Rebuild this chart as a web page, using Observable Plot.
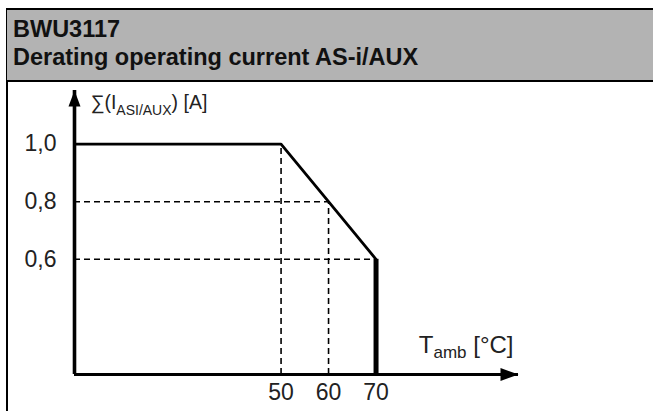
<!DOCTYPE html>
<html>
<head>
<meta charset="utf-8">
<script src="https://cdn.jsdelivr.net/npm/d3@7"></script>
<script src="https://cdn.jsdelivr.net/npm/@observablehq/plot@0.6"></script>
<style>
  html, body { margin: 0; padding: 0; background: #fff; }
  body { width: 653px; height: 411px; position: relative; overflow: hidden; font-family: "Liberation Sans", Arial, sans-serif; }
  #leftline { position: absolute; left: 6px; top: 8px; width: 1.5px; height: 403px; background: #000; }
  #header { position: absolute; left: 7px; top: 8px; width: 646px; height: 70px; background: #b3b3b3;
            border-top: 2px solid #000; border-bottom: 2px solid #000; }
  #header div { position: absolute; left: 6px; font-weight: bold; font-size: 23.5px; line-height: 28px; color: #111; white-space: nowrap; }
  #chart { position: absolute; left: 0; top: 82px; }
</style>
</head>
<body>
<div id="leftline"></div>
<div id="header"></div>
<div id="chart"></div>
<script>
// ---- data ----
const titleLines = ["BWU3117", "Derating operating current AS-i/AUX"];
const tempAxis = [6.5, 100];       // schematic temperature axis extent (°C)
const currentAxis = [0.2, 1.2];    // schematic current axis extent (A)
const tempTicks = [50, 60, 70];
const currentTicks = [0.6, 0.8, 1.0];
const curveTemp = [6.5, 50, 60, 70];
const curveCurrent = [1.0, 1.0, 0.8, 0.6];
const guideTemp = [50, 60, 70];
const guideCurrent = [1.0, 0.8, 0.6];
const cutoffTemp = [70];
const yLabelParts = ["∑(I", "ASI/AUX", ") [A]"];
const xLabelParts = ["T", "amb", " [°C]"];

// header
const header = document.getElementById("header");
titleLines.forEach((t, i) => {
  const d = document.createElement("div");
  d.textContent = t;
  d.style.top = (5 + i * 27.7) + "px";
  header.appendChild(d);
});

const curve = curveTemp.map((t, i) => ({t, c: curveCurrent[i]}));
const guides = guideTemp.map((t, i) => ({t, c: guideCurrent[i]}));

const arrowUp = {draw(ctx) { ctx.moveTo(0, 0); ctx.lineTo(6, 16); ctx.lineTo(-6, 16); ctx.closePath(); }};
const arrowRight = {draw(ctx) { ctx.moveTo(0, 0); ctx.lineTo(6.5, 18); ctx.lineTo(-6.5, 18); ctx.closePath(); }};

const font = "Liberation Sans, Arial, sans-serif";
const W = 653, H = 329;
const fmt = d => d.toFixed(1).replace(".", ",");

const plot = Plot.plot({
  width: W, height: H,
  marginLeft: 74, marginRight: 135, marginTop: 8, marginBottom: 37,
  x: {domain: tempAxis, axis: null},
  y: {domain: currentAxis, range: [292, 4], axis: null},
  style: {fontFamily: font, background: "transparent", overflow: "visible"},
  marks: [
    // dashed guides
    Plot.ruleY(guides, {y: "c", x1: tempAxis[0], x2: "t", stroke: "#000", strokeWidth: 1.6, strokeDasharray: "6,4"}),
    Plot.ruleX(guides, {x: "t", y1: currentAxis[0], y2: "c", stroke: "#000", strokeWidth: 1.6, strokeDasharray: "6,4"}),
    // derating curve
    Plot.line(curve, {x: "t", y: "c", stroke: "#000", strokeWidth: 2.8}),
    Plot.ruleX(cutoffTemp, {x: d => d, y1: currentAxis[0], y2: curveCurrent[curveCurrent.length - 1], stroke: "#000", strokeWidth: 5}),
    // axes
    Plot.ruleX([tempAxis[0]], {x: d => d, stroke: "#000", strokeWidth: 3.6}),
    Plot.ruleY([currentAxis[0]], {y: d => d, stroke: "#000", strokeWidth: 2.8}),
    Plot.dot([0], {frameAnchor: "top-left", symbol: arrowUp, fill: "#000", stroke: null}),
    Plot.dot([0], {frameAnchor: "bottom-right", symbol: arrowRight, rotate: 90, fill: "#000", stroke: null}),
    // tick labels
    Plot.text(tempTicks, {x: d => d, frameAnchor: "bottom", text: d => String(d), lineAnchor: "top", dy: 9, fontSize: 23, fill: "#222"}),
    Plot.text(currentTicks, {y: d => d, frameAnchor: "left", text: fmt, textAnchor: "end", lineAnchor: "middle", dx: -18, fontSize: 23, fill: "#222"}),
    // axis labels
    Plot.text([yLabelParts.join("")], {frameAnchor: "top-left", text: d => d, textAnchor: "start", lineAnchor: "top", dx: 16, dy: 4.5, fontSize: 19.5, fill: "#222"}),
    Plot.text([xLabelParts.join("")], {frameAnchor: "bottom-right", text: d => d, textAnchor: "end", lineAnchor: "top", dx: -5, dy: -39, fontSize: 24, fill: "#222"})
  ]
});
document.getElementById("chart").appendChild(plot);

// subscripts
function subscript(svg, parts, subSize, shift) {
  const full = parts.join("");
  d3.select(svg).selectAll("text, tspan").filter(function() {
    return this.textContent === full && this.querySelector("tspan") === null;
  }).each(function() {
    const el = d3.select(this);
    el.text(null);
    el.append("tspan").text(parts[0]);
    el.append("tspan").attr("dy", shift).attr("font-size", subSize).text(parts[1]);
    el.append("tspan").attr("dy", -shift).text(parts[2]);
  });
}
subscript(plot, yLabelParts, 14, 6);
subscript(plot, xLabelParts, 17, 5);
</script>
</body>
</html>
